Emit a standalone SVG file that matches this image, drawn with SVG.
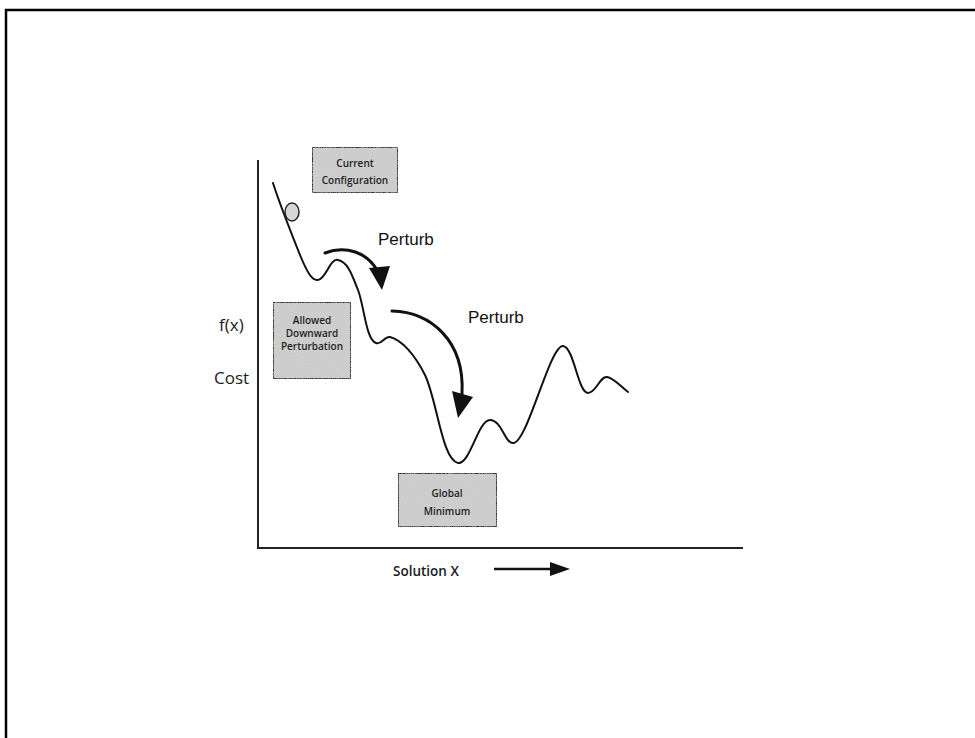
<svg xmlns="http://www.w3.org/2000/svg" width="975" height="738" viewBox="0 0 975 738">
<defs>
<style>
.box{fill:#cfcfcf;stroke:#333;stroke-width:2}
.bt{font-family:"Open Sans","Liberation Sans",Arial,sans-serif;font-size:10px;font-weight:600;fill:#222;text-anchor:middle}
.lbl{font-family:"Liberation Sans",Arial,sans-serif;fill:#111}
.gl{font-family:"Open Sans","Liberation Sans",sans-serif;fill:#1a1a1a}
.curve{fill:none;stroke:#111;stroke-width:2;stroke-linecap:round;stroke-linejoin:round}
.arr{fill:none;stroke:#111;stroke-width:3;stroke-linecap:round}
.axis{stroke:#222;stroke-width:2;fill:none}
</style>
<filter id="speck" x="0" y="0" width="1" height="1">
<feTurbulence type="fractalNoise" baseFrequency="0.9" numOctaves="2" seed="3" result="n"/>
<feColorMatrix in="n" type="matrix" values="0 0 0 0 0.55  0 0 0 0 0.55  0 0 0 0 0.55  0 0 0 1.2 -0.45" result="d"/>
<feComposite in="d" in2="SourceGraphic" operator="in" result="dc"/>
<feMerge><feMergeNode in="SourceGraphic"/><feMergeNode in="dc"/></feMerge>
</filter>
</defs>
<rect width="975" height="738" fill="#fff"/>
<g id="frame">
<path d="M6,738 V10 H975" fill="none" stroke="#000" stroke-width="2.5"/>
</g>
<g id="axes">
<path class="axis" d="M258,160 V548 H743"/>
<text class="gl" x="219" y="331" font-size="17">f(x)</text>
<text class="gl" x="214" y="384" font-size="17">Cost</text>
<text class="gl" x="393" y="576" font-size="13.5" font-weight="600">Solution X</text>
<path d="M494,569 H552" stroke="#111" stroke-width="2.5"/>
<polygon points="550,562 570,569 550,576" fill="#111"/>
</g>
<g id="landscape">
<path class="curve" d="M273,183 C280,205 290,230 300,255 C307,272 312,281 318,280 C326,279 330,258 338,260 C348,262 352,275 358,290 C364,305 366,340 376,343 C382,345 384,336 390,337 C402,340 415,355 425,375 C437,400 442,460 458,463 C470,465 478,420 490,420 C502,420 505,445 514,443 C528,440 550,345 563,346 C574,347 578,393 588,393 C596,393 600,376 607,377 C614,378 620,386 628,392"/>
<ellipse cx="292" cy="212" rx="7" ry="9" fill="#d6d6d6" stroke="#222" stroke-width="1.5"/>
</g>
<g id="current-configuration">
<rect class="box" x="312" y="147" width="86" height="46" filter="url(#speck)"/>
<text class="bt" x="355" y="167">Current</text>
<text class="bt" x="355" y="184">Configuration</text>
</g>
<g id="allowed-downward-perturbation">
<rect class="box" x="273" y="302" width="78" height="77" filter="url(#speck)"/>
<text class="bt" x="312" y="324" font-size="8.5">Allowed</text>
<text class="bt" x="312" y="337" font-size="8.5">Downward</text>
<text class="bt" x="312" y="350" font-size="8.5">Perturbation</text>
</g>
<g id="global-minimum">
<rect class="box" x="398" y="473" width="99" height="54" filter="url(#speck)"/>
<text class="bt" x="447" y="497" font-size="11">Global</text>
<text class="bt" x="447" y="515" font-size="11">Minimum</text>
</g>
<g id="connectors">
<path class="arr" d="M325,253 C345,245 368,252 378,272"/>
<polygon points="369,268 390,266 382,290" fill="#111"/>
<text class="lbl" x="378" y="245" font-size="17">Perturb</text>
<path class="arr" d="M392,311 C430,312 465,340 462,394"/>
<polygon points="452,391 473,397 458,418" fill="#111"/>
<text class="lbl" x="468" y="323" font-size="17">Perturb</text>
</g>
</svg>
